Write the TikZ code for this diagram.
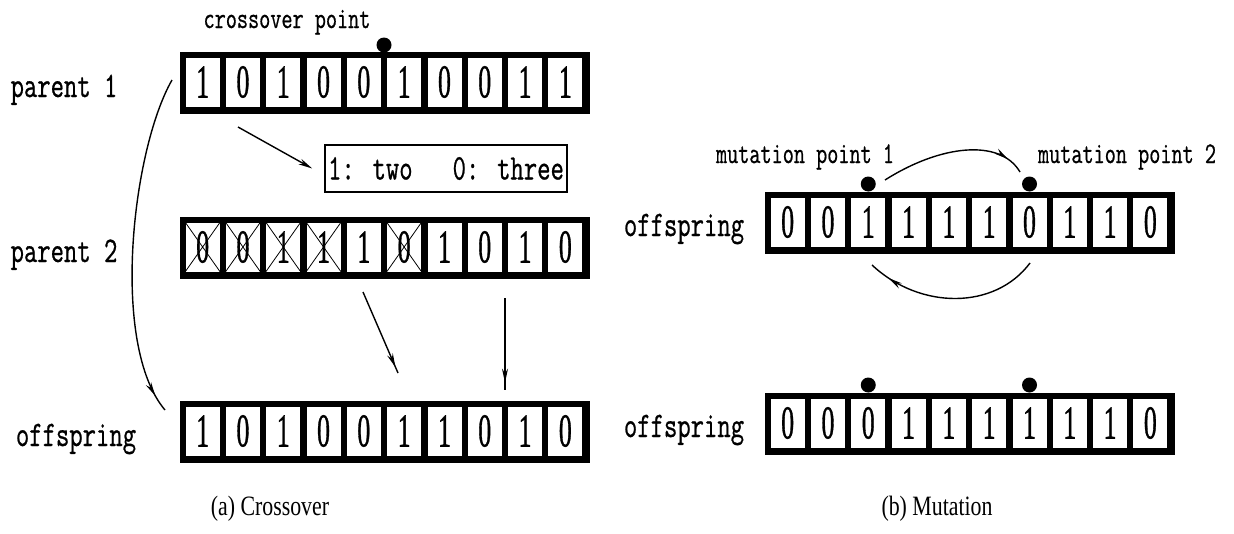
\documentclass[tikz,border=0pt]{standalone}
\usepackage{fontspec}
\newfontfamily\timesf{Liberation Serif}
\newfontfamily\digf{Liberation Serif}[FakeBold=1.2]
\newfontfamily\monof{Latin Modern Mono}[FakeBold=0.8]
\usetikzlibrary{arrows.meta,decorations.markings}

\newcommand{\BL}[1]{\scalebox{0.72}[1]{\fontsize{36}{36}\selectfont\monof #1}}
\newcommand{\SL}[1]{\scalebox{0.72}[1]{\fontsize{30}{30}\selectfont\monof #1}}
\newcommand{\DG}[1]{\scalebox{0.55}[1]{\fontsize{47}{47}\selectfont\digf #1}}
\newcommand{\CP}[1]{\scalebox{0.78}[1]{\fontsize{28}{28}\selectfont\timesf #1}}

\newcommand{\bitrow}[4]{%
  \node[frame] (#1) at (#2,#3) {};
  \foreach \d [count=\i from 0] in {#4} {\node[cell] (#1-\i) at ({#2+22.65+\i*40.3},{#3+30}) {\DG{\d}};}
}

\begin{document}
\begin{tikzpicture}[x=1pt,y=-1pt,
  frame/.style={fill=black, draw=none, minimum width=410pt, minimum height=62pt, inner sep=0pt, anchor=north west},
  cell/.style={fill=white, draw=black, line width=0.8pt, minimum width=35pt, minimum height=50pt, inner sep=0pt},
  dot/.style={circle, fill=black, inner sep=0pt, minimum size=15pt},
  lab/.style={inner sep=0pt, anchor=base},
  conn/.style={line width=1.4pt},
  tipat/.style={postaction={decorate,decoration={markings,mark=at position #1 with {\arrow{Stealth[length=14pt,width=6pt]}}}}},
  xline/.style={line width=0.8pt}]
\useasboundingbox (0,0) rectangle (1234,533);

% (a) crossover
\bitrow{P1}{180}{52}{1,0,1,0,0,1,0,0,1,1}
\bitrow{P2}{180}{217}{0,0,1,1,1,0,1,0,1,0}
\bitrow{OA}{180}{401}{1,0,1,0,0,1,1,0,1,0}
\foreach \i in {0,1,2,3,5}
  \draw[xline] (P2-\i.north west) -- (P2-\i.south east) (P2-\i.north east) -- (P2-\i.south west);

\node[dot] (cpt) at (384,45) {};
\node[lab] (cpl) at (287,28) {\SL{crossover point}};

\node[lab] (lp1) at (64,97) {\BL{parent 1}};
\node[lab] (lp2) at (64,262) {\BL{parent 2}};
\node[lab] (loa) at (76,446) {\BL{offspring}};

\node[draw, line width=1.5pt, minimum width=242pt, minimum height=47pt, inner sep=0pt] (leg) at (446,168.5) {\BL{1: two\ \ \ 0: three}};

\coordinate (a1s) at (238,127);
\draw[conn,-{Stealth[length=14pt,width=6pt]}] (a1s) -- ([xshift=-12pt]leg.west);

\coordinate (cs) at (172,80);
\coordinate (ce) at (165,410);
\draw[conn,tipat=0.95] (cs) .. controls (132,150) and (110,345) .. (ce);

\coordinate (d1s) at (363,292);
\coordinate (d1e) at (398,373);
\draw[conn,tipat=0.93] (d1s) -- (d1e);
\coordinate (d2s) at (505,298);
\coordinate (d2e) at (505,390);
\draw[conn,tipat=0.92] (d2s) -- (d2e);

\node[lab] (capa) at (270,515) {\CP{(a) Crossover}};

% (b) mutation
\bitrow{M1}{765}{192}{0,0,1,1,1,1,0,1,1,0}
\bitrow{M2}{765}{393}{0,0,0,1,1,1,1,1,1,0}
\node[dot] (md1) at (868.25,184) {};
\node[dot] (md2) at (1029.5,184) {};
\node[dot] (nd1) at (868.25,385) {};
\node[dot] (nd2) at (1029.5,385) {};

\node[lab] (mpl1) at (805,163) {\SL{mutation point 1}};
\node[lab] (mpl2) at (1127,163) {\SL{mutation point 2}};

\node[lab] (lm1) at (684,236) {\BL{offspring}};
\node[lab] (lm2) at (684,437) {\BL{offspring}};

\coordinate (u1) at (885,180);
\coordinate (u2) at (1020,172);
\draw[conn,tipat=0.88] (u1) .. controls (940,145) and (1000,138) .. (u2);
\coordinate (l1) at (1030,263);
\coordinate (l2) at (872,265);
\draw[conn,tipat=0.88] (l1) .. controls (995,310) and (920,310) .. (l2);

\node[lab] (capb) at (937,515) {\CP{(b) Mutation}};
\end{tikzpicture}
\end{document}
